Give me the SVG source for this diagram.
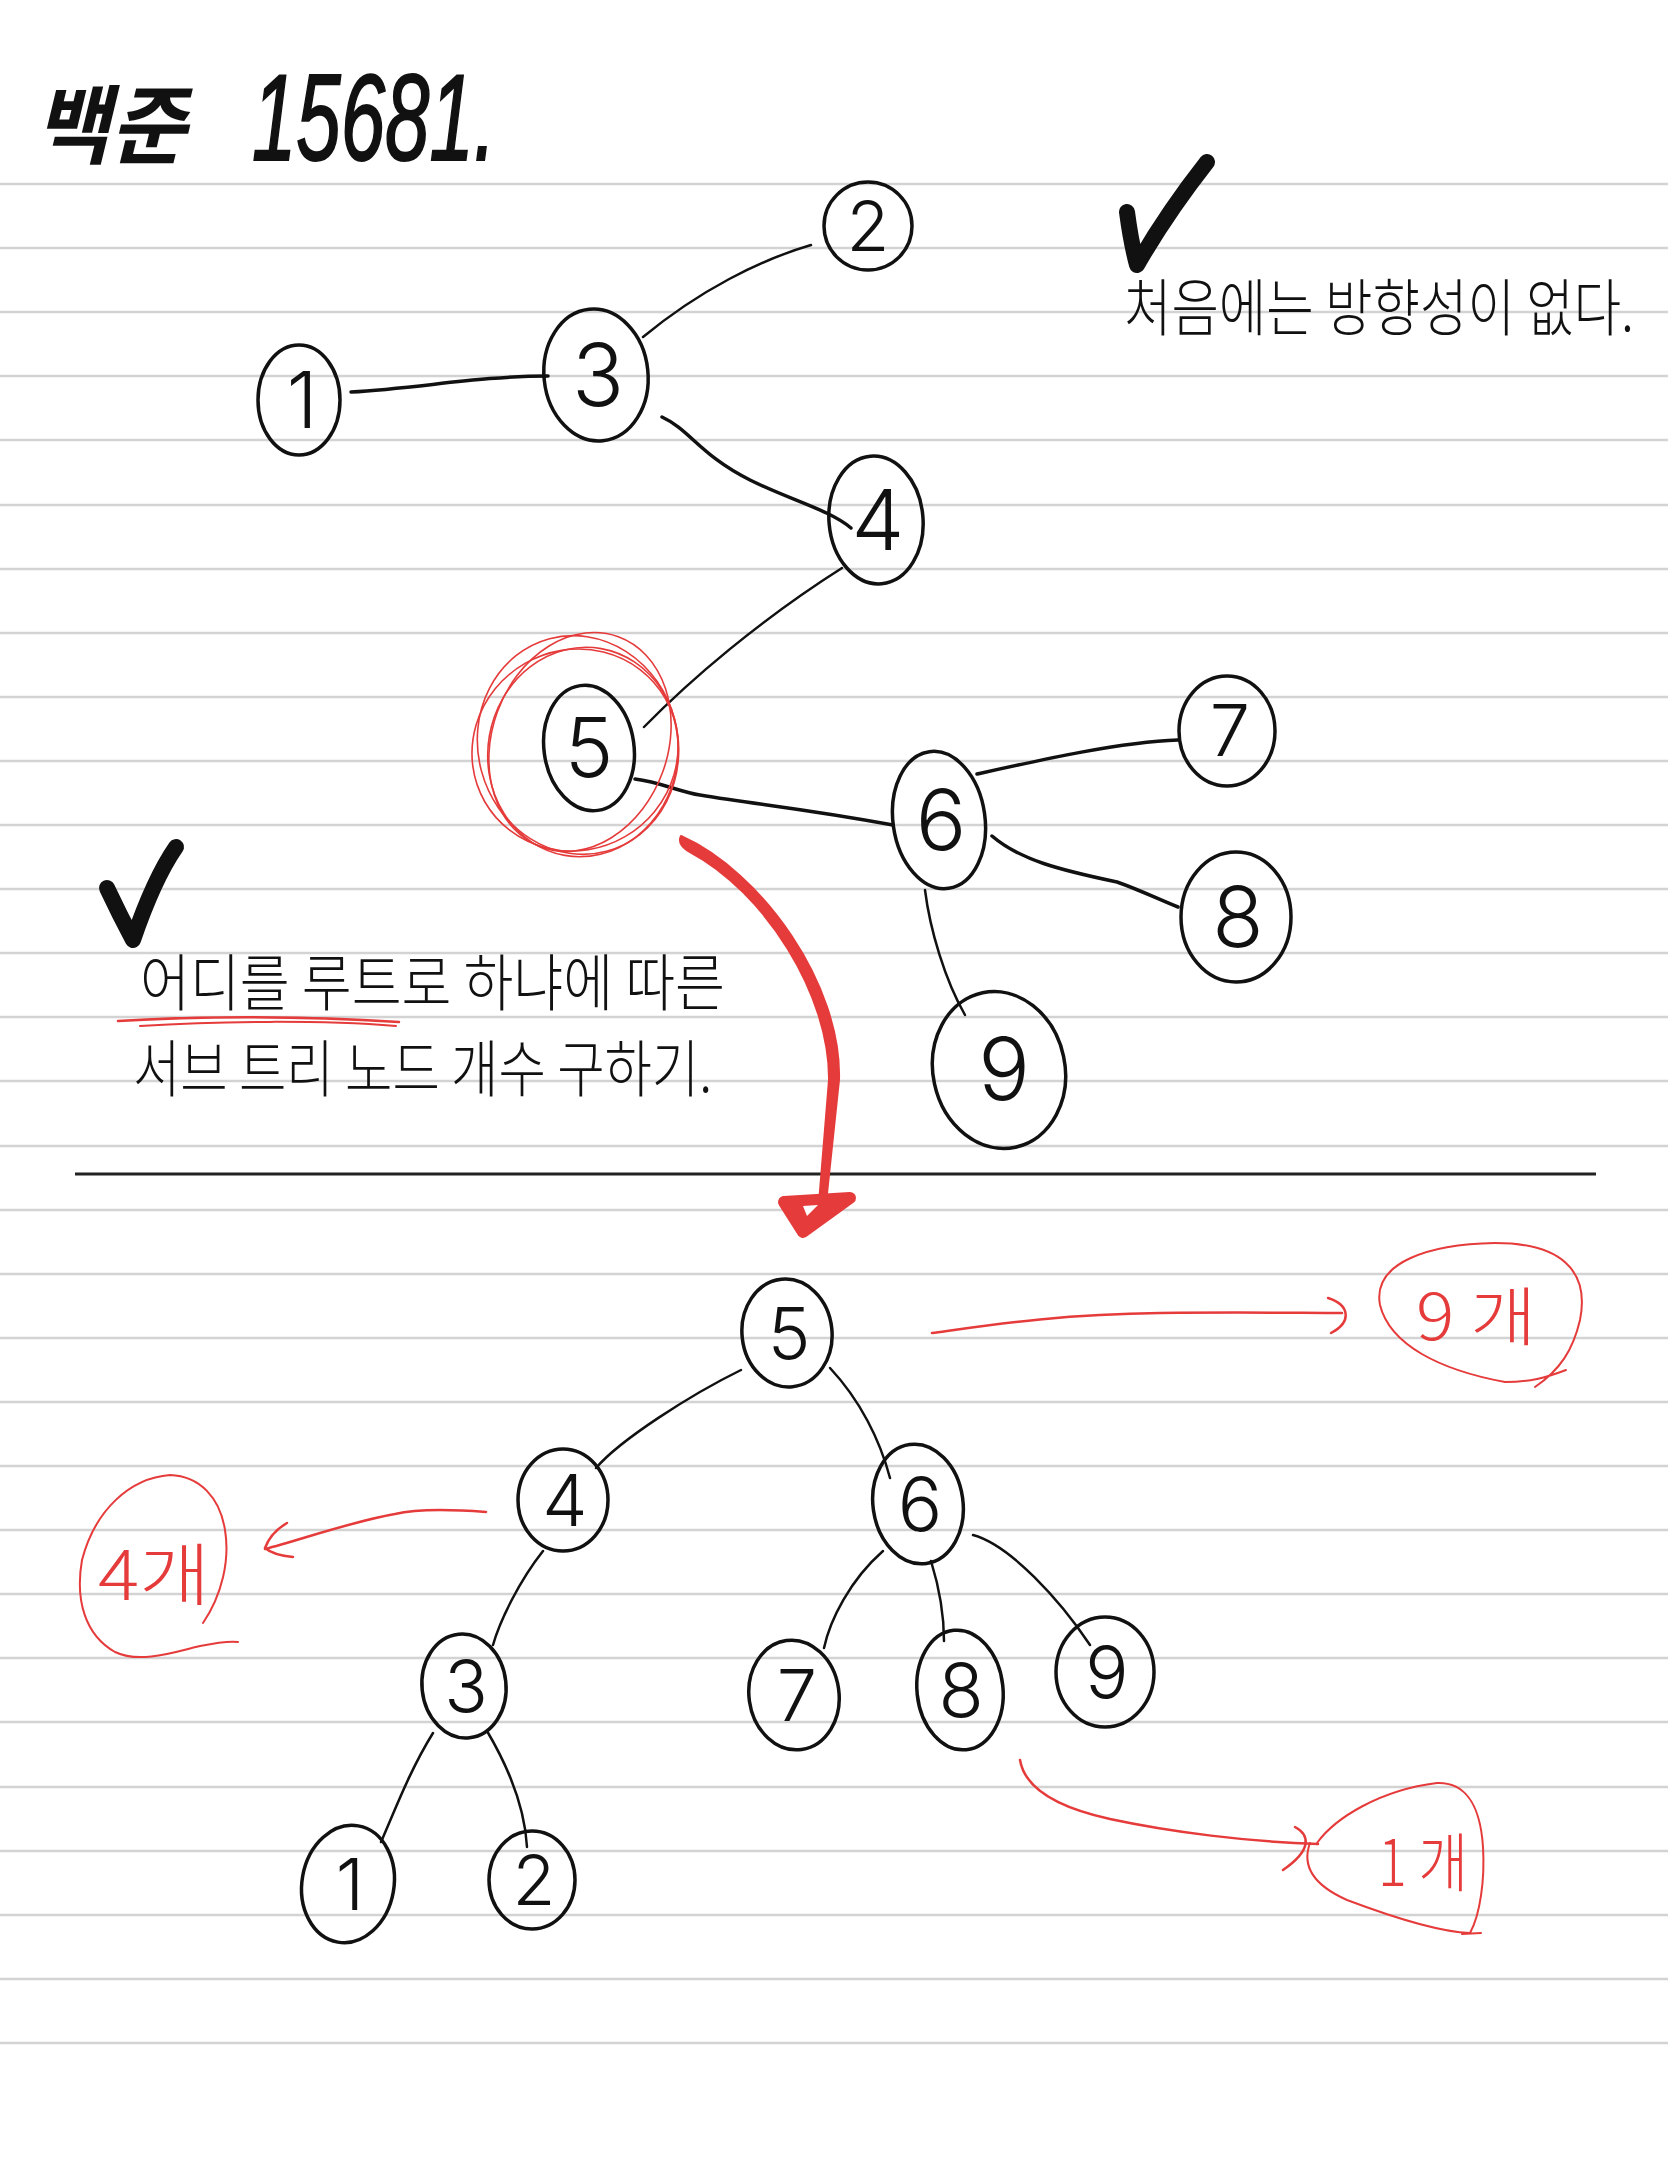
<svg xmlns="http://www.w3.org/2000/svg" width="1668" height="2157" viewBox="0 0 1668 2157">
<defs>
<style>
.rule{stroke:#d3d3d3;stroke-width:2.5}
.node{fill:none;stroke:#111;stroke-width:3.5}
.edge{fill:none;stroke:#111;stroke-width:2.5;stroke-linecap:round}
.edgeT{fill:none;stroke:#111;stroke-width:3.5;stroke-linecap:round}
.dig{font-family:Inter,"Open Sans","Liberation Sans",sans-serif;font-weight:300;fill:#111;text-anchor:middle}
.ko{font-family:"Noto Sans CJK KR","Liberation Sans",sans-serif;font-weight:300;fill:#111}
.red{fill:none;stroke:#e53b3b;stroke-linecap:round;stroke-linejoin:round}
.redtxt{font-family:"Noto Sans CJK KR","Liberation Sans",sans-serif;font-weight:300;fill:#e53b3b}
</style>
</defs>
<rect width="1668" height="2157" fill="#fff"/>
<g id="rules">
<line class="rule" x1="0" y1="184" x2="1668" y2="184"/>
<line class="rule" x1="0" y1="248" x2="1668" y2="248"/>
<line class="rule" x1="0" y1="312" x2="1668" y2="312"/>
<line class="rule" x1="0" y1="376" x2="1668" y2="376"/>
<line class="rule" x1="0" y1="440" x2="1668" y2="440"/>
<line class="rule" x1="0" y1="505" x2="1668" y2="505"/>
<line class="rule" x1="0" y1="569" x2="1668" y2="569"/>
<line class="rule" x1="0" y1="633" x2="1668" y2="633"/>
<line class="rule" x1="0" y1="697" x2="1668" y2="697"/>
<line class="rule" x1="0" y1="761" x2="1668" y2="761"/>
<line class="rule" x1="0" y1="825" x2="1668" y2="825"/>
<line class="rule" x1="0" y1="889" x2="1668" y2="889"/>
<line class="rule" x1="0" y1="953" x2="1668" y2="953"/>
<line class="rule" x1="0" y1="1017" x2="1668" y2="1017"/>
<line class="rule" x1="0" y1="1081" x2="1668" y2="1081"/>
<line class="rule" x1="0" y1="1146" x2="1668" y2="1146"/>
<line class="rule" x1="0" y1="1210" x2="1668" y2="1210"/>
<line class="rule" x1="0" y1="1274" x2="1668" y2="1274"/>
<line class="rule" x1="0" y1="1338" x2="1668" y2="1338"/>
<line class="rule" x1="0" y1="1402" x2="1668" y2="1402"/>
<line class="rule" x1="0" y1="1466" x2="1668" y2="1466"/>
<line class="rule" x1="0" y1="1530" x2="1668" y2="1530"/>
<line class="rule" x1="0" y1="1594" x2="1668" y2="1594"/>
<line class="rule" x1="0" y1="1658" x2="1668" y2="1658"/>
<line class="rule" x1="0" y1="1722" x2="1668" y2="1722"/>
<line class="rule" x1="0" y1="1787" x2="1668" y2="1787"/>
<line class="rule" x1="0" y1="1851" x2="1668" y2="1851"/>
<line class="rule" x1="0" y1="1915" x2="1668" y2="1915"/>
<line class="rule" x1="0" y1="1979" x2="1668" y2="1979"/>
<line class="rule" x1="0" y1="2043" x2="1668" y2="2043"/>
</g>
<line id="separator" x1="75" y1="1174" x2="1596" y2="1174" stroke="#222" stroke-width="3"/>

<g id="title">
<text font-family="'Noto Sans CJK KR',sans-serif" font-weight="bold" font-style="italic" font-size="86" x="34" y="157" textLength="152" lengthAdjust="spacingAndGlyphs" fill="#111">백준</text>
<text font-family="'Liberation Sans',sans-serif" font-style="italic" font-size="122" x="252" y="160" textLength="244" lengthAdjust="spacingAndGlyphs" fill="#111" stroke="#111" stroke-width="2">15681.</text>
</g>

<g id="notes">
<path d="M1127,212 C1130,235 1133,250 1137,265 C1160,225 1185,190 1207,162" fill="none" stroke="#111" stroke-width="16" stroke-linecap="round" stroke-linejoin="round"/>
<text class="ko" font-size="50" transform="translate(1124 331) scale(1 1.25)" x="0" y="0" textLength="510" lengthAdjust="spacingAndGlyphs">처음에는 방향성이 없다.</text>
<path d="M107,888 C115,905 125,925 133,940 C145,905 160,870 176,847" fill="none" stroke="#111" stroke-width="16" stroke-linecap="round" stroke-linejoin="round"/>
<text class="ko" font-size="62" x="140" y="1006" textLength="585" lengthAdjust="spacingAndGlyphs">어디를 루트로 하냐에 따른</text>
<path class="red" stroke-width="2.5" d="M118,1021 C200,1016 300,1016 399,1022"/>
<path class="red" stroke-width="2" d="M140,1026 C220,1021 320,1020 396,1026"/>
<text class="ko" font-size="62" x="133" y="1092" textLength="579" lengthAdjust="spacingAndGlyphs">서브 트리 노드 개수 구하기.</text>
</g>

<g id="connectors">
<path class="edgeT" d="M351,392 C420,388 480,376 548,376"/>
<path class="edge" d="M643,337 C700,290 760,260 811,245"/>
<path class="edgeT" d="M662,417 C690,430 700,455 750,480 C790,500 830,510 851,528"/>
<path class="edge" d="M842,568 C760,620 690,680 644,727"/>
<path class="edgeT" d="M635,779 C660,782 680,792 700,795 C760,805 800,808 893,825"/>
<path class="edgeT" d="M977,774 C1040,760 1120,742 1178,740"/>
<path class="edgeT" d="M992,836 C1020,860 1060,870 1117,882 C1140,890 1160,900 1178,907"/>
<path class="edge" d="M925,890 C930,930 945,980 965,1015"/>
<path class="edge" d="M741,1370 C690,1395 620,1440 596,1468"/>
<path class="edge" d="M830,1368 C860,1400 880,1440 890,1478"/>
<path class="edge" d="M543,1551 C520,1580 500,1620 493,1645"/>
<path class="edge" d="M883,1551 C850,1580 830,1620 824,1648"/>
<path class="edge" d="M931,1561 C940,1590 944,1620 944,1641"/>
<path class="edge" d="M973,1535 C1010,1545 1060,1600 1090,1645"/>
<path class="edge" d="M433,1733 C410,1770 395,1810 381,1842"/>
<path class="edge" d="M487,1731 C510,1770 525,1810 527,1847"/>
</g>

<g id="highlight-root">
<ellipse class="red" stroke-width="1.6" cx="578" cy="745" rx="100" ry="110" transform="rotate(-15 578 745)"/>
<ellipse class="red" stroke-width="1.6" cx="583" cy="752" rx="95" ry="105" transform="rotate(10 583 752)"/>
<ellipse class="red" stroke-width="1.6" cx="575" cy="750" rx="104" ry="100" transform="rotate(-30 575 750)"/>
<ellipse class="red" stroke-width="1.6" cx="580" cy="742" rx="88" ry="112" transform="rotate(20 580 742)"/>
</g>

<g id="upper-nodes">
<g id="u1"><ellipse class="node" cx="299" cy="400" rx="41" ry="55"/><text class="dig" font-size="78" x="302" y="428">1</text></g>
<g id="u3"><ellipse class="node" cx="596" cy="375" rx="52" ry="66" transform="rotate(-6 596 375)"/><text class="dig" font-size="86" x="598" y="406">3</text></g>
<g id="u2"><ellipse class="node" cx="868" cy="226" rx="44" ry="44"/><text class="dig" font-size="70" x="868" y="251">2</text></g>
<g id="u4"><ellipse class="node" cx="876" cy="520" rx="47" ry="64" transform="rotate(-5 876 520)"/><text class="dig" font-size="84" x="878" y="550">4</text></g>
<g id="u5"><ellipse class="node" cx="589" cy="748" rx="45" ry="63" transform="rotate(-8 589 748)"/><text class="dig" font-size="82" x="589" y="777">5</text></g>
<g id="u6"><ellipse class="node" cx="939" cy="820" rx="46" ry="69" transform="rotate(-8 939 820)"/><text class="dig" font-size="84" x="941" y="850">6</text></g>
<g id="u7"><ellipse class="node" cx="1227" cy="731" rx="48" ry="55"/><text class="dig" font-size="72" x="1230" y="756">7</text></g>
<g id="u8"><ellipse class="node" cx="1236" cy="917" rx="55" ry="65"/><text class="dig" font-size="84" x="1238" y="947">8</text></g>
<g id="u9"><ellipse class="node" cx="999" cy="1070" rx="66" ry="79" transform="rotate(-12 999 1070)"/><text class="dig" font-size="86" x="1004" y="1100">9</text></g>
</g>

<g id="red-arrow">
<path d="M681,836 C762,872 842,985 839,1080 L826,1203 L819,1203 L829,1080 C830,995 765,892 690,852 C682,848 678,842 681,836 Z" fill="#e53b3b" stroke="#e53b3b" stroke-width="2" stroke-linejoin="round"/>
<polygon points="784,1202 850,1198 803,1232" fill="#e53b3b" stroke="#e53b3b" stroke-width="12" stroke-linejoin="round"/>
<polygon points="803,1206 818,1205 807,1216" fill="#fff"/>
</g>

<g id="lower-nodes">
<g id="l5"><ellipse class="node" cx="787" cy="1333" rx="45" ry="54" transform="rotate(-6 787 1333)"/><text class="dig" font-size="72" x="789" y="1359">5</text></g>
<g id="l4"><ellipse class="node" cx="563" cy="1500" rx="45" ry="51"/><text class="dig" font-size="72" x="565" y="1526">4</text></g>
<g id="l6"><ellipse class="node" cx="918" cy="1504" rx="45" ry="60" transform="rotate(-8 918 1504)"/><text class="dig" font-size="74" x="920" y="1531">6</text></g>
<g id="l3"><ellipse class="node" cx="464" cy="1686" rx="42" ry="52" transform="rotate(-6 464 1686)"/><text class="dig" font-size="72" x="466" y="1712">3</text></g>
<g id="l7"><ellipse class="node" cx="794" cy="1695" rx="45" ry="55" transform="rotate(-8 794 1695)"/><text class="dig" font-size="72" x="797" y="1721">7</text></g>
<g id="l8"><ellipse class="node" cx="960" cy="1690" rx="43" ry="60" transform="rotate(-6 960 1690)"/><text class="dig" font-size="74" x="961" y="1717">8</text></g>
<g id="l9"><ellipse class="node" cx="1105" cy="1672" rx="49" ry="55"/><text class="dig" font-size="72" x="1107" y="1698">9</text></g>
<g id="l1"><ellipse class="node" cx="348" cy="1884" rx="46" ry="59" transform="rotate(10 348 1884)"/><text class="dig" font-size="72" x="350" y="1910">1</text></g>
<g id="l2"><ellipse class="node" cx="532" cy="1880" rx="43" ry="49"/><text class="dig" font-size="70" x="534" y="1905">2</text></g>
</g>

<g id="annotations">
<path class="red" stroke-width="2.5" d="M932,1333 C990,1325 1060,1314 1160,1313 C1250,1312 1300,1313 1342,1313"/>
<path class="red" stroke-width="2.5" d="M1328,1298 C1350,1305 1352,1322 1331,1333"/>
<path class="red" stroke-width="2" d="M1566,1370 C1545,1378 1530,1382 1505,1382 C1440,1370 1390,1345 1380,1305 C1372,1262 1430,1244 1495,1243 C1560,1243 1590,1270 1580,1320 C1573,1350 1560,1370 1535,1387"/>
<text class="redtxt" font-size="64" x="1416" y="1340" textLength="120" lengthAdjust="spacingAndGlyphs">9 개</text>

<path class="red" stroke-width="2.5" d="M486,1512 C460,1510 420,1508 395,1514 C350,1522 300,1540 265,1549"/>
<path class="red" stroke-width="2.5" d="M287,1523 C275,1530 268,1540 265,1548 C272,1554 282,1556 293,1557"/>
<path class="red" stroke-width="2" d="M203,1623 C222,1595 230,1560 225,1530 C220,1498 200,1476 170,1475 C130,1478 95,1510 82,1560 C75,1600 85,1635 115,1652 C140,1664 175,1652 200,1646 C215,1643 230,1641 238,1642"/>
<text class="redtxt" font-size="68" x="98" y="1600" textLength="112" lengthAdjust="spacingAndGlyphs">4개</text>

<path class="red" stroke-width="2.5" d="M1020,1760 C1025,1790 1060,1808 1110,1819 C1170,1832 1250,1842 1318,1844"/>
<path class="red" stroke-width="2.5" d="M1295,1827 C1310,1835 1312,1850 1283,1870"/>
<path class="red" stroke-width="2" d="M1317,1843 C1335,1818 1380,1790 1437,1783 C1462,1782 1480,1800 1483,1847 C1485,1880 1480,1915 1470,1933 C1440,1932 1400,1920 1347,1900 C1320,1888 1300,1870 1310,1843 M1462,1934 L1481,1933"/>
<text class="redtxt" font-size="64" x="1378" y="1886" textLength="90" lengthAdjust="spacingAndGlyphs">1 개</text>
</g>
</svg>
